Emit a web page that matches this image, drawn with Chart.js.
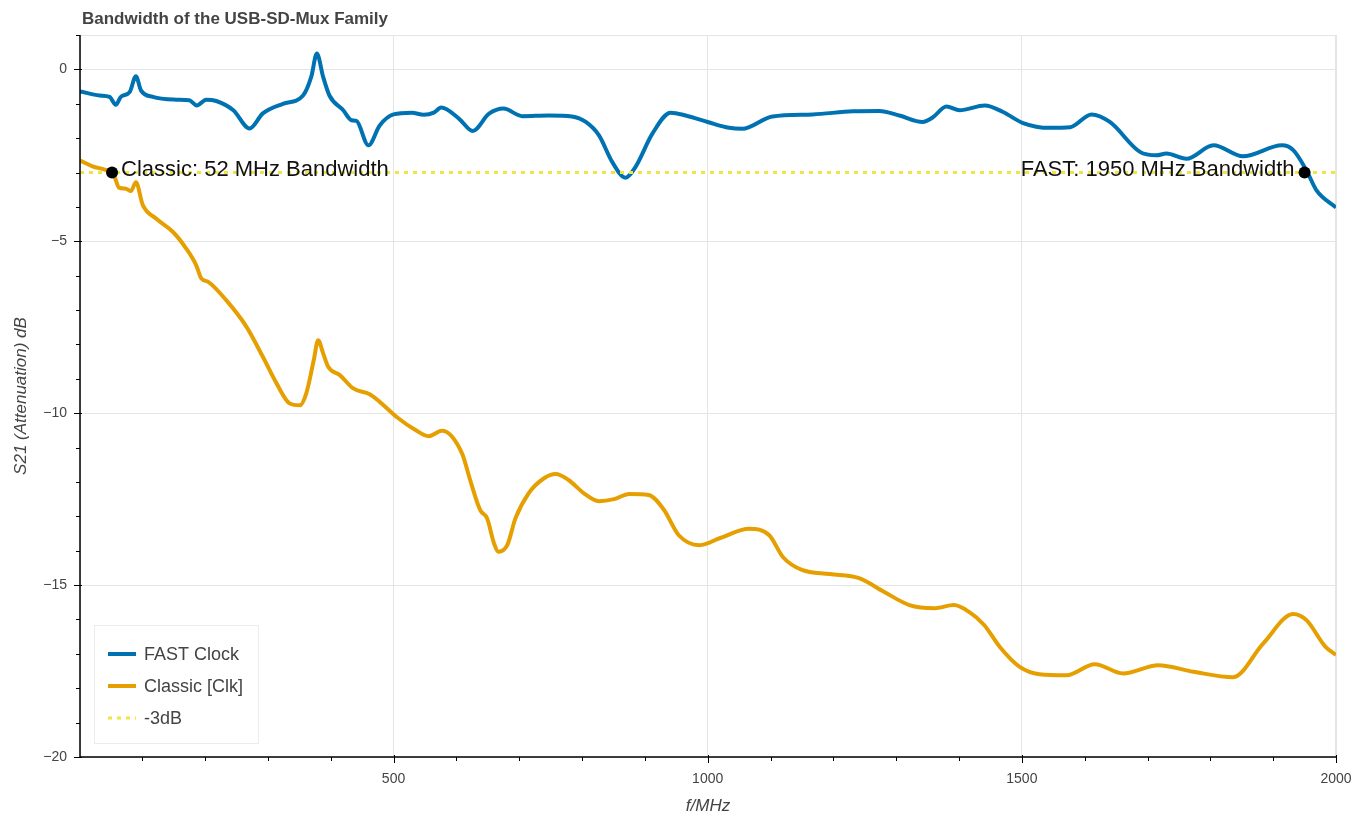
<!DOCTYPE html>
<html>
<head>
<meta charset="utf-8">
<script src="https://cdn.jsdelivr.net/npm/chart.js@4.4.1/dist/chart.umd.min.js"></script>
<style>
  html, body { margin: 0; padding: 0; background: #fff; }
  #wrap { width: 1368px; height: 816px; }
</style>
</head>
<body>
<div id="wrap"><canvas id="c" width="1368" height="816"></canvas></div>
<script>
// ---------- data ----------
const chartTitle = "Bandwidth of the USB-SD-Mux Family";
const xAxisLabel = "f/MHz";
const yAxisLabel = "S21 (Attenuation) dB";

const fastFreq = [1, 32, 48, 58, 66, 80, 90, 98, 117, 154, 175, 187, 202, 218, 245, 271, 292, 324, 356, 369, 378, 388, 398, 420, 433, 441, 460, 478, 500, 529, 548, 564, 576, 604, 626, 652, 675, 705, 747, 784, 806, 827, 848, 869, 885, 912, 941, 965, 1000, 1034, 1055, 1103, 1167, 1231, 1273, 1305, 1342, 1358, 1380, 1401, 1441, 1470, 1502, 1544, 1577, 1611, 1640, 1688, 1714, 1730, 1762, 1805, 1852, 1914, 1932, 1953, 1969, 2000];
const fastDb = [-0.64, -0.76, -0.80, -1.03, -0.80, -0.66, -0.20, -0.61, -0.80, -0.88, -0.90, -1.05, -0.88, -0.92, -1.19, -1.72, -1.28, -1.00, -0.76, -0.22, 0.46, -0.22, -0.76, -1.19, -1.48, -1.50, -2.21, -1.63, -1.31, -1.26, -1.32, -1.26, -1.11, -1.43, -1.79, -1.29, -1.14, -1.36, -1.34, -1.37, -1.53, -1.92, -2.69, -3.15, -2.84, -1.87, -1.26, -1.34, -1.53, -1.70, -1.73, -1.37, -1.31, -1.22, -1.21, -1.34, -1.53, -1.40, -1.08, -1.19, -1.05, -1.24, -1.56, -1.70, -1.68, -1.31, -1.53, -2.40, -2.50, -2.45, -2.60, -2.21, -2.53, -2.21, -2.35, -2.94, -3.52, -4.02];

const classicFreq = [1, 21, 48, 56, 63, 74, 82, 90, 101, 122, 149, 170, 186, 194, 205, 234, 266, 292, 314, 335, 351, 361, 373, 380, 388, 396, 415, 436, 462, 478, 505, 535, 556, 577, 609, 622, 638, 649, 660, 667, 681, 694, 715, 739, 758, 779, 803, 827, 851, 875, 906, 930, 954, 987, 1020, 1066, 1098, 1120, 1150, 1194, 1241, 1281, 1321, 1361, 1392, 1416, 1440, 1465, 1496, 1528, 1571, 1616, 1661, 1717, 1773, 1836, 1884, 1932, 1953, 1983, 2000];
const classicDb = [-2.65, -2.82, -2.98, -3.13, -3.44, -3.47, -3.54, -3.28, -3.95, -4.34, -4.73, -5.21, -5.70, -6.08, -6.18, -6.72, -7.49, -8.36, -9.14, -9.72, -9.77, -9.43, -8.46, -7.88, -8.26, -8.65, -8.90, -9.28, -9.45, -9.67, -10.11, -10.49, -10.67, -10.51, -11.17, -11.95, -12.82, -13.06, -13.79, -14.03, -13.84, -13.06, -12.33, -11.90, -11.77, -11.95, -12.33, -12.56, -12.50, -12.35, -12.38, -12.80, -13.55, -13.84, -13.63, -13.36, -13.55, -14.19, -14.56, -14.68, -14.80, -15.20, -15.58, -15.67, -15.58, -15.78, -16.16, -16.80, -17.37, -17.59, -17.62, -17.30, -17.57, -17.33, -17.52, -17.68, -16.70, -15.84, -16.02, -16.79, -17.03];

const thresholdFreq = [1, 2000];
const thresholdDb = [-3, -3];

const markerFreq = [52, 1950];
const markerDb = [-3, -3];
const markerLabels = ["Classic: 52 MHz Bandwidth", "FAST: 1950 MHz Bandwidth"];
const markerAlign = ["left", "right"];

const seriesNames = ["FAST Clock", "Classic [Clk]", "-3dB"];
const seriesColors = ["#0072B2", "#E69F00", "#F0E442"];

const xMajorTicks = [500, 1000, 1500, 2000];
const xMinorTicks = [100, 200, 300, 400, 600, 700, 800, 900, 1100, 1200, 1300, 1400, 1600, 1700, 1800, 1900];
const yMajorTicks = [-20, -15, -10, -5, 0];
const yMinorTicks = [-19, -18, -17, -16, -14, -13, -12, -11, -9, -8, -7, -6, -4, -3, -2, -1, 1];

// ---------- helpers ----------
const zip = (xs, ys) => xs.map((x, i) => ({ x: x, y: ys[i] }));
const FONT = "'Liberation Sans', Arial, Helvetica, sans-serif";
const fmt = v => (v < 0 ? "\u2212" + Math.abs(v) : String(v));

const plotLeft = 80, plotRight = 1336, plotTop = 35, plotBottom = 757;

const decor = {
  id: "decor",
  beforeDatasetsDraw(chart) {
    const ctx = chart.ctx, a = chart.chartArea;
    ctx.save();
    ctx.strokeStyle = "#e5e5e5";
    ctx.lineWidth = 1;
    ctx.strokeRect(a.left + 0.5, a.top + 0.5, a.right - a.left - 1, a.bottom - a.top);
    ctx.restore();
  },
  afterDatasetsDraw(chart) {
    const ctx = chart.ctx, a = chart.chartArea;
    const xs = chart.scales.x, ys = chart.scales.y;
    ctx.save();
    // axes lines
    ctx.strokeStyle = "#000";
    ctx.lineWidth = 1.5;
    ctx.beginPath();
    ctx.moveTo(a.left, a.top); ctx.lineTo(a.left, a.bottom);
    ctx.lineTo(a.right, a.bottom);
    ctx.stroke();
    ctx.lineWidth = 1;
    ctx.beginPath();
    xMajorTicks.forEach(v => { const p = Math.round(xs.getPixelForValue(v)) + 0.5; ctx.moveTo(p, a.bottom - 2); ctx.lineTo(p, a.bottom + 6); });
    xMinorTicks.forEach(v => { const p = Math.round(xs.getPixelForValue(v)) + 0.5; ctx.moveTo(p, a.bottom); ctx.lineTo(p, a.bottom + 4); });
    yMajorTicks.forEach(v => { const p = Math.round(ys.getPixelForValue(v)) + 0.5; ctx.moveTo(a.left + 2, p); ctx.lineTo(a.left - 6, p); });
    yMinorTicks.forEach(v => { const p = Math.round(ys.getPixelForValue(v)) + 0.5; ctx.moveTo(a.left, p); ctx.lineTo(a.left - 4, p); });
    ctx.stroke();

    // marker labels
    ctx.fillStyle = "#111";
    ctx.font = "22px " + FONT;
    ctx.textBaseline = "alphabetic";
    markerFreq.forEach((f, i) => {
      const px = xs.getPixelForValue(f), py = ys.getPixelForValue(markerDb[i]);
      ctx.textAlign = markerAlign[i];
      ctx.fillText(markerLabels[i], markerAlign[i] === "left" ? px + 9 : px - 10, py + 3);
    });

    // title
    ctx.fillStyle = "#444";
    ctx.font = "bold 17px " + FONT;
    ctx.textAlign = "left";
    ctx.textBaseline = "alphabetic";
    ctx.fillText(chartTitle, 82, 24);

    // axis labels
    ctx.font = "italic 17px " + FONT;
    ctx.textAlign = "center";
    ctx.fillText(xAxisLabel, (a.left + a.right) / 2, 811);
    ctx.save();
    ctx.translate(26, (a.top + a.bottom) / 2);
    ctx.rotate(-Math.PI / 2);
    ctx.fillText(yAxisLabel, 0, 0);
    ctx.restore();

    // legend
    const lx = 94, ly = 625, lw = 164, lh = 118;
    ctx.fillStyle = "rgba(255,255,255,0.95)";
    ctx.fillRect(lx, ly, lw, lh);
    ctx.strokeStyle = "#ececec";
    ctx.lineWidth = 1;
    ctx.strokeRect(lx + 0.5, ly + 0.5, lw, lh);
    ctx.font = "18px " + FONT;
    ctx.textAlign = "left";
    ctx.textBaseline = "middle";
    seriesNames.forEach((name, i) => {
      const y = 654 + i * 32;
      ctx.strokeStyle = seriesColors[i];
      ctx.lineWidth = i === 2 ? 3 : 4;
      ctx.setLineDash(i === 2 ? [4, 5] : []);
      ctx.beginPath(); ctx.moveTo(108, y); ctx.lineTo(136, y); ctx.stroke();
      ctx.setLineDash([]);
      ctx.fillStyle = "#444";
      ctx.fillText(name, 144, y + 1);
    });
    ctx.restore();
  }
};

new Chart(document.getElementById("c"), {
  type: "line",
  data: {
    datasets: [
      { label: seriesNames[0], data: zip(fastFreq, fastDb), borderColor: seriesColors[0], borderWidth: 4, pointRadius: 0, cubicInterpolationMode: "monotone", fill: false, order: 4 },
      { label: seriesNames[1], data: zip(classicFreq, classicDb), borderColor: seriesColors[1], borderWidth: 4, pointRadius: 0, cubicInterpolationMode: "monotone", fill: false, order: 3 },
      { label: seriesNames[2], data: zip(thresholdFreq, thresholdDb), borderColor: seriesColors[2], borderWidth: 3, borderDash: [4, 5], pointRadius: 0, fill: false, order: 2 },
      { label: "markers", data: zip(markerFreq, markerDb), showLine: false, pointRadius: 6, pointBackgroundColor: "#000", pointBorderColor: "#000", pointBorderWidth: 0, order: 1 }
    ]
  },
  options: {
    responsive: false,
    animation: false,
    devicePixelRatio: 1,
    layout: { padding: { left: 0, right: 1368 - plotRight, top: plotTop, bottom: 0 } },
    plugins: { legend: { display: false }, tooltip: { enabled: false }, title: { display: false } },
    scales: {
      x: {
        type: "linear", min: 1, max: 2000,
        afterFit: s => { s.height = 816 - plotBottom; },
        afterBuildTicks: s => { s.ticks = xMajorTicks.map(v => ({ value: v })); },
        ticks: { color: "#444", font: { family: FONT, size: 14 }, padding: 14, callback: v => fmt(v), maxRotation: 0, autoSkip: false },
        grid: { color: "#e5e5e5", lineWidth: 1, drawTicks: false },
        border: { display: false }
      },
      y: {
        type: "linear", min: -20, max: 1,
        afterFit: s => { s.width = plotLeft; },
        afterBuildTicks: s => { s.ticks = yMajorTicks.map(v => ({ value: v })); },
        ticks: { color: "#444", font: { family: FONT, size: 14 }, padding: 13, callback: v => fmt(v), autoSkip: false },
        grid: { color: "#e5e5e5", lineWidth: 1, drawTicks: false },
        border: { display: false }
      }
    }
  },
  plugins: [decor]
});
</script>
</body>
</html>
